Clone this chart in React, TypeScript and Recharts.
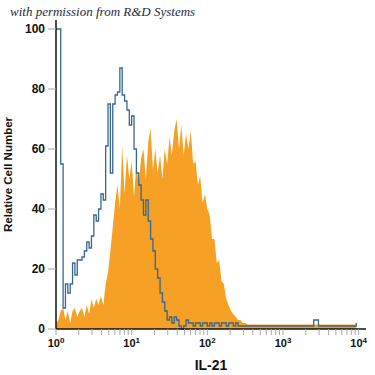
import {
  Area,
  ComposedChart,
  Label,
  Line,
  XAxis,
  YAxis,
} from "recharts";

// Histogram channels: 32 bins per decade, starting at 10^0
const BINS_PER_DECADE = 32;

// IL-21 stained cells (orange filled histogram)
const IL21_COUNTS = [
  2, 3, 6, 7, 3, 6, 2, 6, 7, 4, 6, 7, 4, 8, 5, 10, 7, 10, 8, 11,
  8, 15, 19, 26, 34, 42, 48, 40, 61, 45, 58, 50, 56, 44, 55, 48, 57, 60, 50, 62,
  67, 53, 60, 52, 58, 50, 60, 55, 64, 58, 66, 70, 60, 68, 58, 65, 60, 66, 55, 56,
  48, 51, 42, 45, 40, 38, 30, 30, 22, 23, 16, 15, 10, 8, 6, 5, 4, 3, 3, 2,
  2, 1.5, 1.5, 1.5, 1.5, 1.5, 1.5, 1.5, 1.5, 1.5, 1.5, 1.5, 1.5, 1.5, 1.5, 1.5, 1.5, 1.5, 1.5, 1.5,
  1.5, 1.5, 1.5, 1.5, 1.5, 1.5, 1.5, 1.5, 1.5, 1.5, 1.5, 1.5, 1.5, 1.5, 1.5, 1.5, 1.5, 1.5, 1.5, 1.5,
  1.5, 1.5, 1.5, 1.5, 1.5, 1.5, 1.5, 1.5,
];

// Isotype control (blue outline)
const CONTROL_COUNTS = [
  100, 100, 55, 7, 15, 12, 15, 22, 18, 23, 23, 24, 26, 29, 27, 31, 38, 36, 40, 45,
  43, 61, 75, 52, 75, 78, 79, 87, 78, 76, 73, 68, 71, 60, 52, 48, 43, 38, 43, 36,
  30, 26, 20, 17, 12, 9, 6, 3, 4, 2, 4, 3, 1, 0, 1, 3, 2, 2, 1, 2,
  2, 1, 2, 2, 1, 2, 1, 2, 2, 1, 2, 2, 1, 2, 2, 1, 2, 1, 1, 1,
  1, 1, 1, 1, 1, 1, 1, 1, 1, 1, 1, 1, 1, 1, 1, 1, 1, 1, 1, 1,
  1, 1, 1, 1, 1, 1, 1, 1, 1, 3, 3, 1, 1, 1, 1, 1, 1, 1, 1, 1,
  1, 1, 1, 1, 1, 1, 1, 2,
];

const X_TICKS = [
  1, 2, 3, 4, 5, 6, 7, 8, 9,
  10, 20, 30, 40, 50, 60, 70, 80, 90,
  100, 200, 300, 400, 500, 600, 700, 800, 900,
  1000, 2000, 3000, 4000, 5000, 6000, 7000, 8000, 9000,
  10000,
];
const Y_TICKS = [0, 20, 40, 60, 80, 100];

const rows = IL21_COUNTS.map((v, i) => ({
  x: Math.pow(10, i / BINS_PER_DECADE),
  il21: v,
  control: CONTROL_COUNTS[i],
}));

const LABEL_FONT = "'Liberation Sans', Arial, sans-serif";

function LogTick(props: any) {
  const { x, y, payload } = props;
  const exp = Math.log10(payload.value);
  if (Math.abs(exp - Math.round(exp)) > 1e-6) return null;
  return (
    <text
      x={x}
      y={y}
      dy={10}
      textAnchor="middle"
      fontFamily={LABEL_FONT}
      fontWeight="bold"
      fontSize={11}
      fill="#111"
    >
      10
      <tspan dy={-4} fontSize={8}>
        {Math.round(exp)}
      </tspan>
    </text>
  );
}

export default function App() {
  return (
    <div
      style={{
        position: "absolute",
        left: 0,
        top: 0,
        width: 375,
        height: 375,
        background: "#fff",
      }}
    >
      <div
        style={{
          position: "absolute",
          left: 10,
          top: 4,
          fontFamily: "'Liberation Serif', serif",
          fontStyle: "italic",
          fontSize: 13,
          color: "#1d2a44",
          zIndex: 2,
        }}
      >
        with permission from R&amp;D Systems
      </div>
      <ComposedChart
        width={375}
        height={375}
        data={rows}
        margin={{ top: 20, right: 9, left: 0, bottom: 0 }}
      >
        <XAxis
          dataKey="x"
          type="number"
          scale="log"
          domain={[1, 12500]}
          allowDataOverflow
          ticks={X_TICKS}
          interval={0}
          tick={<LogTick />}
          tickSize={6}
          tickMargin={2}
          tickLine={{ stroke: "#a8a8a8" }}
          axisLine={{ stroke: "#111", strokeWidth: 1.5 }}
          height={46}
        >
          <Label
            value="IL-21"
            position="insideBottom"
            offset={5}
            style={{
              fontFamily: LABEL_FONT,
              fontWeight: "bold",
              fontSize: 14,
              fill: "#111",
            }}
          />
        </XAxis>
        <YAxis
          type="number"
          domain={[0, 103]}
          ticks={Y_TICKS}
          interval={0}
          width={56}
          tickSize={8}
          tickMargin={3}
          tickLine={{ stroke: "#a8a8a8" }}
          axisLine={{ stroke: "#111", strokeWidth: 1.5 }}
          tick={{
            fontFamily: LABEL_FONT,
            fontWeight: "bold",
            fontSize: 12,
            fill: "#111",
          }}
        >
          <Label
            value="Relative Cell Number"
            angle={-90}
            position="insideLeft"
            offset={8}
            style={{
              textAnchor: "middle",
              fontFamily: LABEL_FONT,
              fontWeight: "bold",
              fontSize: 11.5,
              fill: "#111",
            }}
          />
        </YAxis>
        <Area
          dataKey="il21"
          type="linear"
          stroke="none"
          fill="#f6a026"
          fillOpacity={1}
          isAnimationActive={false}
        />
        <Line
          dataKey="control"
          type="stepAfter"
          stroke="#36678f"
          strokeWidth={1.3}
          dot={false}
          isAnimationActive={false}
        />
      </ComposedChart>
    </div>
  );
}
